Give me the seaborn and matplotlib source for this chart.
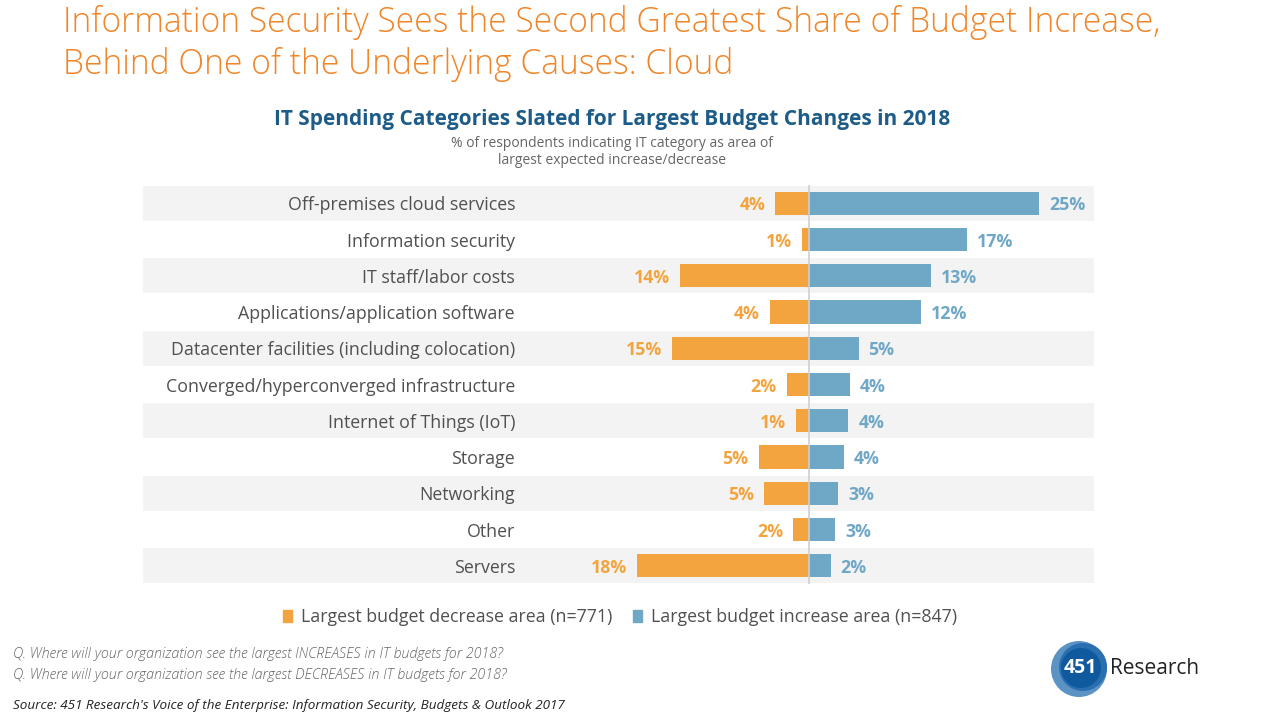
import matplotlib
matplotlib.use("Agg")
import matplotlib.pyplot as plt
import seaborn as sns
import pandas as pd
from matplotlib.patches import Circle, Patch

categories = [
    "Off-premises cloud services",
    "Information security",
    "IT staff/labor costs",
    "Applications/application software",
    "Datacenter facilities (including colocation)",
    "Converged/hyperconverged infrastructure",
    "Internet of Things (IoT)",
    "Storage",
    "Networking",
    "Other",
    "Servers",
]
decrease = [3.6, 0.8, 13.8, 4.2, 14.6, 2.4, 1.35, 5.4, 4.85, 1.67, 18.35]
increase = [24.6, 16.9, 13.0, 12.0, 5.3, 4.4, 4.2, 3.7, 3.1, 2.8, 2.3]
legend_labels = ["Largest budget decrease area (n=771)", "Largest budget increase area (n=847)"]

ORANGE = "#f3a43e"
BLUE = "#6fa7c7"
GRAY_TXT = "#505050"

sns.set_theme(style="white")
plt.rcParams["font.family"] = ["Open Sans", "DejaVu Sans"]

df = pd.DataFrame({"category": categories, "decrease": [-v for v in decrease], "increase": increase})

fig = plt.figure(figsize=(12.8, 7.2), dpi=100)
W, H = 1280, 720
left_px, right_px, top_px, bot_px = 143, 1094, 185, 584
ax = fig.add_axes([left_px / W, 1 - bot_px / H, (right_px - left_px) / W, (bot_px - top_px) / H])

scale = 9.35
xmin = -(809 - left_px) / scale
xmax = (right_px - 809) / scale

for i in range(len(categories)):
    if i % 2 == 0:
        ax.axhspan(i - 0.48, i + 0.48, color="#f3f3f3", zorder=0, lw=0)

sns.barplot(data=df, x="decrease", y="category", orient="h", color=ORANGE, width=0.64,
            saturation=1, ax=ax, zorder=2, edgecolor="none")
sns.barplot(data=df, x="increase", y="category", orient="h", color=BLUE, width=0.64,
            saturation=1, ax=ax, zorder=2, edgecolor="none")

ax.set_xlim(xmin, xmax)
ax.set_ylim(len(categories) - 0.5, -0.5)
ax.axvline(0, color="#cfcfcf", lw=1.2, zorder=3)
for s in ax.spines.values():
    s.set_visible(False)
ax.set_xticks([])
ax.set_yticks([])
ax.set_xlabel("")
ax.set_ylabel("")

lab_x = (515 - 809) / scale
gap = 10 / scale
dy = 0.06
for i, cat in enumerate(categories):
    ax.text(lab_x, i + dy, cat, ha="right", va="center", fontsize=12.8, color=GRAY_TXT)
    d = decrease[i]
    ax.text(-d - gap, i + dy, f"{d:.0f}%", ha="right", va="center", fontsize=12.8,
            fontweight="bold", color=ORANGE)
    u = increase[i]
    ax.text(u + gap, i + dy, f"{u:.0f}%", ha="left", va="center", fontsize=12.8,
            fontweight="bold", color=BLUE)

# Slide title
fig.text(63 / W, 1 - 22 / H, "Information Security Sees the Second Greatest Share of Budget Increase,",
         ha="left", va="center", fontsize=24.2, color="#f0862a", fontweight="light")
fig.text(63 / W, 1 - 64 / H, "Behind One of the Underlying Causes: Cloud",
         ha="left", va="center", fontsize=24.2, color="#f0862a", fontweight="light")

# Chart title
fig.text(612 / W, 1 - 119 / H, "IT Spending Categories Slated for Largest Budget Changes in 2018",
         ha="center", va="center", fontsize=15, fontweight="bold", color="#1d5c88")
fig.text(612 / W, 1 - 152 / H, "% of respondents indicating IT category as area of\nlargest expected increase/decrease",
         ha="center", va="center", fontsize=10, color="#666666", linespacing=1.15)

# Legend
handles = [Patch(color=ORANGE), Patch(color=BLUE)]
leg = fig.legend(handles, legend_labels, loc="center", bbox_to_anchor=(620 / W, 1 - 617 / H),
                 ncol=2, frameon=False, fontsize=12.8, handlelength=0.5, handleheight=0.7,
                 handletextpad=0.5, columnspacing=1.2)
for t in leg.get_texts():
    t.set_color(GRAY_TXT)

# Footnotes
fig.text(13 / W, 1 - 654 / H, "Q. Where will your organization see the largest INCREASES in IT budgets for 2018?",
         ha="left", va="center", fontsize=10.3, style="italic", color="#666666", fontweight="light")
fig.text(13 / W, 1 - 675 / H, "Q. Where will your organization see the largest DECREASES in IT budgets for 2018?",
         ha="left", va="center", fontsize=10.3, style="italic", color="#666666", fontweight="light")
fig.text(13 / W, 1 - 705 / H, "Source: 451 Research's Voice of the Enterprise: Information Security, Budgets & Outlook 2017",
         ha="left", va="center", fontsize=9.7, style="italic", color="#222222")

# Logo
lax = fig.add_axes([1045 / W, 1 - 703 / H, 70 / W, 70 / H])
lax.set_xlim(-35, 35)
lax.set_ylim(-35, 35)
lax.set_aspect("equal")
lax.axis("off")
lax.add_patch(Circle((-1, -1), 28, color="#5b93c4", lw=0))
lax.add_patch(Circle((3, 1), 24, color="#2a6fb0", lw=0))
lax.add_patch(Circle((1, 0), 20, color="#0f5a9e", lw=0))
lax.text(0, 0, "451", ha="center", va="center", color="white", fontsize=14, fontweight="bold")
fig.text(1110 / W, 1 - 669 / H, "Research", ha="left", va="center", fontsize=15, color="#222222")

fig.savefig("out.png", dpi=100)
